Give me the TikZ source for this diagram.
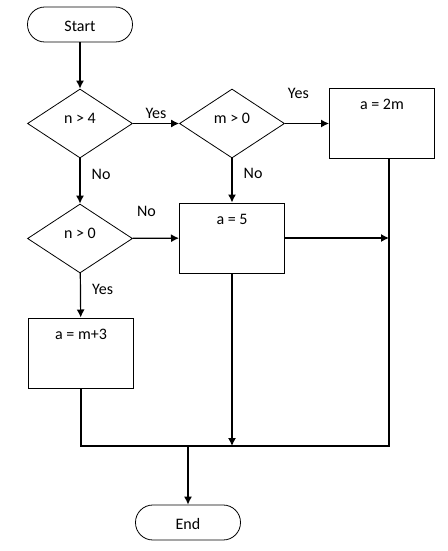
\documentclass[tikz,border=0pt]{standalone}
\usepackage{fontspec}
\setmainfont{Carlito}
\usepackage{tikz}
\usetikzlibrary{shapes.geometric, positioning, arrows.meta}

\begin{document}
\begin{tikzpicture}[x=0.75pt, y=-0.75pt,
    every node/.style={font=\fontsize{12}{14}\selectfont},
    term/.style={draw, line width=0.6pt, rounded corners=13pt, minimum width=78.75pt, minimum height=26.25pt, inner sep=0pt, text height=11pt, text depth=0.2pt},
    test/.style={draw, diamond, line width=0.6pt, minimum width=78.75pt, minimum height=51.75pt, inner sep=0pt, text height=7pt, text depth=7pt},
    proc/.style={draw, line width=0.75pt, minimum width=78.75pt, minimum height=52.5pt, inner sep=0pt, text height=16pt, text depth=36.5pt},
    flow/.style={line width=0.9pt, -{Latex[length=6pt, width=6pt]}},
    link/.style={line width=0.9pt}]
     \useasboundingbox (0,0) rectangle (448,551); %page size of the reference
     \node[term] (start) at (80,24.5) {Start};
     \node[test] (nfour) at (80,123.5) {n > 4};
     \node[test] (mzero) at (232,123.5) {m > 0};
     \node[proc] (twom) at (382,123) {a = 2m};
     \node[test] (nzero) at (80,238.5) {n > 0};
     \node[proc] (five) at (232,238) {a = 5};
     \node[proc] (mthree) at (81,353) {a = m+3};
     \node[term] (stop) at (188,522.5) {End};
     \coordinate (rjoin) at (389,238);
     \coordinate (low) at (389,446);
     \coordinate (merge) at (188,446);
     % decisions
     \draw[flow] (start) -- (nfour);
     \draw[flow] (nfour) -- (mzero) node[midway, above] (yesa) {Yes};
     \draw[flow] (mzero.east) -- (mzero.east -| twom.west) node[midway, above=15pt, xshift=-6.4pt] (yesb) {Yes};
     \draw[flow] (nfour) -- (nzero) node[pos=0.35, right=5pt] (noa) {No};
     \draw[flow] (mzero) -- (five) node[pos=0.35, right=5pt] (nob) {No};
     \draw[flow] (nzero) -- (five) node[midway, above=12.3pt, xshift=-7pt] (noc) {No};
     \draw[flow] (nzero) -- (mthree) node[pos=0.36, right=5pt] (yesc) {Yes};
     % joins
     \draw[flow] (five) -- (rjoin);
     \draw[link] (twom.south -| rjoin) -- (low) -- (merge);
     \draw[flow] (five) -- (five |- low);
     \draw[link] (mthree.south) -- (mthree.south |- merge) -- (merge);
     \draw[flow] (merge) -- (stop);
   \end{tikzpicture}
\end{document}
